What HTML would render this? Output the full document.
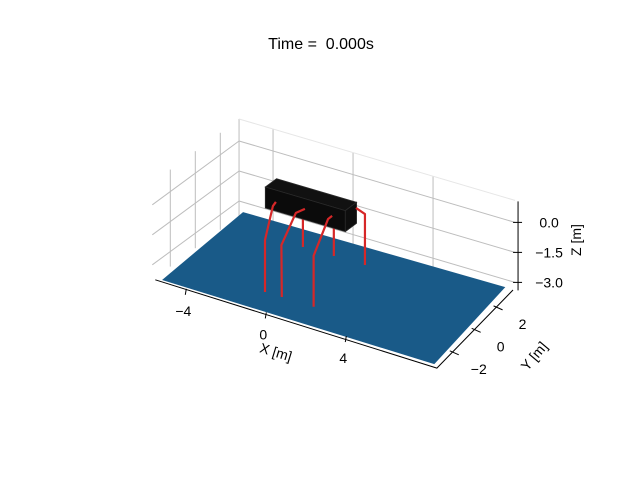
<!DOCTYPE html>
<html><head><meta charset="utf-8"><style>
html,body{margin:0;padding:0;background:#fff}
svg{display:block}
text{font-family:"Liberation Sans","DejaVu Sans",sans-serif;fill:#000}
</style></head><body>
<svg id="chart" width="640" height="480" viewBox="0 0 640 480" xmlns="http://www.w3.org/2000/svg">
<rect width="640" height="480" fill="#fff"/>
<text x="321" y="49" font-size="16" text-anchor="middle">Time =&#160; 0.000s</text>
<g id="grid"></g><g id="floor"></g><g id="backlegs"></g><g id="box"></g><g id="frontlegs"></g><g id="axes"></g>
</svg>
<script>
// axis limits
const xLim = [-5.7, 8.1];
const yLim = [-3.44, 3.5];
const zLim = [-3.75, 1.1];
// tick values
const xTicks = [-4, 0, 4];
const yTicks = [-2, 0, 2];
const zTicks = [0, -1.5, -3];
const xTickLabels = ["\u22124", "0", "4"];
const yTickLabels = ["\u22122", "0", "2"];
const zTickLabels = ["0.0", "\u22121.5", "\u22123.0"];
// seabed corners
const floorX = [-5.2, -5.6, 7.4, 8.6];
const floorY = [-3.46, 3.66, 3.84, -3.76];
const floorZ = -3.6;
// floating body
const boxX = [-2.2, 1.8];
const boxY = [0, 0.9];
const boxZ = [-0.71, 0.34];
// mooring lines (front)
const frontLegsX = [[-1.67, -1.82, -0.94, -0.94], [-0.22, -0.67, -0.12, -0.10], [1.14, 0.94, 1.51, 1.51]];
const frontLegsY = [[0, 0, -2.04, -2.04], [0, 0, -2.04, -2.04], [0, 0, -2.07, -2.07]];
const frontLegsZ = [[-0.25, -0.5, -1.0, -3.6], [-0.17, -0.5, -1.01, -3.6], [-0.12, -0.33, -1.05, -3.6]];
// mooring lines (back)
const backLegsX = [[-1.77, -1.77], [-0.23, -0.23]];
const backLegsY = [[2.32, 2.32], [2.33, 2.33]];
const backLegsZ = [[-0.7, -3.6], [-0.7, -3.6]];
const sideLegX = [1.77, 1.32, 1.32];
const sideLegY = [0.9, 2.34, 2.34];
const sideLegZ = [0.05, -1.05, -3.6];

const NS = "http://www.w3.org/2000/svg";
function P(x, y, z) { return [309.3 + 20 * x + 12.5 * y, 206.8 + 5.9 * x - 9.2 * y - 20 * z]; }
function mk(tag, parent, attrs) {
  const e = document.createElementNS(NS, tag);
  for (const k in attrs) e.setAttribute(k, attrs[k]);
  document.getElementById(parent).appendChild(e);
  return e;
}
function line3(parent, a, b, stroke, w) {
  const p = P(...a), q = P(...b);
  return mk("line", parent, {x1: p[0], y1: p[1], x2: q[0], y2: q[1], stroke: stroke, "stroke-width": w});
}
const G = "#bdbdbd";
zTicks.forEach(z => { const l = line3("grid", [xLim[0], yLim[0], z], [xLim[0], yLim[1], z], G, 1);
  
   });
yTicks.forEach(y => { const l = line3("grid", [xLim[0], y, zLim[0]], [xLim[0], y, zLim[1]], G, 1);
  
   });
zTicks.forEach(z => { const l = line3("grid", [xLim[0], yLim[1], z], [xLim[1], yLim[1], z], G, 1);
  
   });
xTicks.forEach(x => { const l = line3("grid", [x, yLim[1], zLim[0]], [x, yLim[1], zLim[1]], G, 1);
  
   });
{ const l = line3("grid", [xLim[0], yLim[1], zLim[0]], [xLim[0], yLim[1], zLim[1]], G, 1);
  
   }
{ const l = line3("grid", [xLim[0], yLim[1], zLim[1]], [xLim[1], yLim[1], zLim[1]], "#e6e6e6", 1);
  
   }
{
  const pts = floorX.map((x, i) => P(x, floorY[i], floorZ).join(",")).join(" ");
  const f = mk("polygon", "floor", {points: pts, fill: "#195a88"});
  
  
}
function poly(parent, xs, ys, zs, name) {
  const pts = xs.map((x, i) => P(x, ys[i], zs[i]).join(",")).join(" ");
  const e = mk("polyline", parent, {points: pts, fill: "none", stroke: "#d62728", "stroke-width": 2.2, "stroke-linejoin": "round"});
  
  
}
backLegsX.forEach((xs, i) => poly("backlegs", xs, backLegsY[i], backLegsZ[i], "mooring-line-back"));
{
  const [x0, x1] = boxX, [y0, y1] = boxY, [z0, z1] = boxZ;
  const faces = [
    [[x0, y0, z1], [x1, y0, z1], [x1, y1, z1], [x0, y1, z1]],
    [[x0, y0, z0], [x1, y0, z0], [x1, y0, z1], [x0, y0, z1]],
    [[x1, y0, z0], [x1, y1, z0], [x1, y1, z1], [x1, y0, z1]]
  ];
  const fills = ["#111", "#0b0b0b", "#0e0e0e"];
  faces.forEach((f, i) => {
    const e = mk("polygon", "box", {points: f.map(p => P(...p).join(",")).join(" "), fill: fills[i], stroke: "#2a2a2a", "stroke-width": 0.8});
    
    
  });
}
frontLegsX.forEach((xs, i) => poly("frontlegs", xs, frontLegsY[i], frontLegsZ[i], "mooring-line-front"));
poly("frontlegs", sideLegX, sideLegY, sideLegZ, "mooring-line-side");
function sline(x1, y1, x2, y2, name) {
  const e = mk("line", "axes", {x1, y1, x2, y2, stroke: "#000", "stroke-width": 1});
  
  
}
function stext(x, y, s, name, extra) {
  const e = mk("text", "axes", Object.assign({x, y, "font-size": 14, "text-anchor": "middle"}, extra || {}));
  e.textContent = s;
  
  
  return e;
}
{ const a = P(xLim[0], yLim[0], zLim[0]), b = P(xLim[1], yLim[0], zLim[0]);
  sline(a[0] + 3, a[1], b[0] + 9, b[1] + 7, "x-axis-line"); }
xTicks.forEach((t, i) => {
  const p = P(t, yLim[0], zLim[0]);
  sline(p[0], p[1] - 1, p[0] - 1, p[1] + 5, "x-tick");
  stext(p[0] - 3, p[1] + 26, xTickLabels[i], "x-tick-label");
});
// y axis spine drawn in screen between its end points
const ySpineA = [437, 368], ySpineB = [513, 290];
sline(ySpineA[0], ySpineA[1], ySpineB[0], ySpineB[1], "y-axis-line");
yTicks.forEach((t, i) => {
  const f = (t - yLim[0]) / (yLim[1] - yLim[0]);
  const px = ySpineA[0] + f * (ySpineB[0] - ySpineA[0]);
  const py = ySpineA[1] + f * (ySpineB[1] - ySpineA[1]);
  sline(px - 3, py - 1, px + 6, py + 3, "y-tick");
  stext(px + 26, py + 22, yTickLabels[i], "y-tick-label");
});
{ const a = P(xLim[1], yLim[1], zLim[0]), b = P(xLim[1], yLim[1], zLim[1]);
  sline(a[0] + 3, a[1] - 7, b[0] + 3, b[1] + 1, "z-axis-line"); }
zTicks.forEach((t, i) => {
  const p = P(xLim[1], yLim[1], t);
  sline(p[0] - 2, p[1], p[0] + 7, p[1], "z-tick");
  stext(p[0] + 34, p[1] + 5, zTickLabels[i], "z-tick-label");
});
stext(276, 357, "X [m]", "x-axis-title", {transform: "rotate(17 276 352)"});
stext(534, 361, "Y [m]", "y-axis-title", {transform: "rotate(-50 534 356)"});
stext(586, 245, "Z [m]", "z-axis-title", {transform: "rotate(-90 581 245)"});
</script>
</body></html>
